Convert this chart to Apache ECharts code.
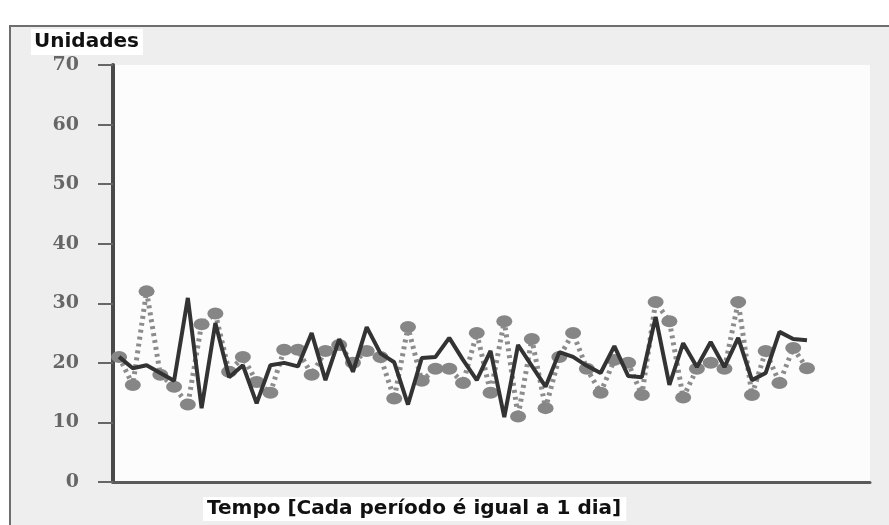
<!DOCTYPE html>
<html><head><meta charset="utf-8">
<script src="https://cdn.jsdelivr.net/npm/echarts@6/dist/echarts.min.js"></script>
<style>html,body{margin:0;padding:0;background:#fff}#c{width:889px;height:525px}</style>
</head><body><div id="c"></div>
<script>
// Eixo Y
const yMin = 0, yMax = 70, yStep = 10;
// Demanda real (linha pontilhada com marcadores)
const demanda = [21, 16.3, 32, 18, 16, 13, 26.5, 28.3, 18.5, 21, 16.8, 15, 22.2, 22.2, 18, 22, 23, 20, 22, 21,
  14, 26, 17, 19, 19, 16.6, 25, 15, 27, 11, 24, 12.4, 21, 25, 19, 15, 20.5, 20, 14.6, 30.2,
  27, 14.2, 19, 20, 19, 30.2, 14.6, 22, 16.6, 22.5, 19.1];
// Previsão (linha sólida)
const previsao = [21, 19.1, 19.6, 18.3, 17, 30.9, 12.4, 26.7, 17.6, 19.6, 13.2, 19.6, 20, 19.4, 25, 17.1, 24, 18.5, 26, 21.6,
  20.1, 13, 20.8, 21, 24.2, 20.5, 17.1, 22, 10.9, 23, 19.5, 16, 21.8, 21, 19.5, 18.3, 22.8, 17.8, 17.6, 27.7,
  16.3, 23.3, 19.3, 23.5, 19.3, 24.2, 17.1, 18.3, 25.2, 24, 23.8];
const tituloY = 'Unidades';
const tituloX = 'Tempo [Cada período é igual a 1 dia]';

const pares = arr => arr.map((v, i) => [i + 1, v]);

const chart = echarts.init(document.getElementById('c'));
chart.setOption({
  animation: false,
  backgroundColor: '#ffffff',
  graphic: [{
    type: 'rect', z: -10, silent: true,
    shape: { x: 10, y: 26, width: 900, height: 520 },
    style: { fill: '#eeeeee', stroke: '#6e6e6e', lineWidth: 2 }
  }],
  title: [{
    text: tituloY, left: 31, top: 29, padding: [3, 4, 3, 3], backgroundColor: '#ffffff',
    textStyle: { fontFamily: 'DejaVu Sans', fontWeight: 'bold', fontSize: 20, color: '#111' }
  }, {
    text: tituloX, left: 203, top: 497, padding: [2, 5, 2, 4], backgroundColor: '#ffffff',
    textStyle: { fontFamily: 'DejaVu Sans', fontWeight: 'bold', fontSize: 20, color: '#111' }
  }],
  grid: { left: 113, right: 19, top: 65, bottom: 43, show: true, backgroundColor: '#fcfcfc', borderWidth: 0 },
  xAxis: {
    type: 'value', min: 0.56, max: 55.58,
    axisLine: { show: true, onZero: false, lineStyle: { color: '#5a5a5a', width: 3 } },
    axisTick: { show: false }, axisLabel: { show: false }, splitLine: { show: false }
  },
  yAxis: {
    type: 'value', min: yMin, max: yMax, interval: yStep,
    axisLine: { show: true, lineStyle: { color: '#4a4a4a', width: 4 } },
    axisTick: { show: true, length: 15, lineStyle: { color: '#666', width: 2 } },
    axisLabel: { margin: 34, fontFamily: 'DejaVu Serif', fontWeight: 'bold', fontSize: 19, color: '#666' },
    splitLine: { show: false }
  },
  series: [{
    name: 'Demanda', type: 'line', data: pares(demanda), z: 2,
    symbol: 'circle', symbolSize: [16, 12], showSymbol: true,
    itemStyle: { color: '#868686' },
    lineStyle: { color: '#8c8c8c', width: 5, type: [3, 4] }
  }, {
    name: 'Previsão', type: 'line', data: pares(previsao), z: 3,
    symbol: 'none',
    lineStyle: { color: '#333333', width: 4 }
  }]
});
</script></body></html>
